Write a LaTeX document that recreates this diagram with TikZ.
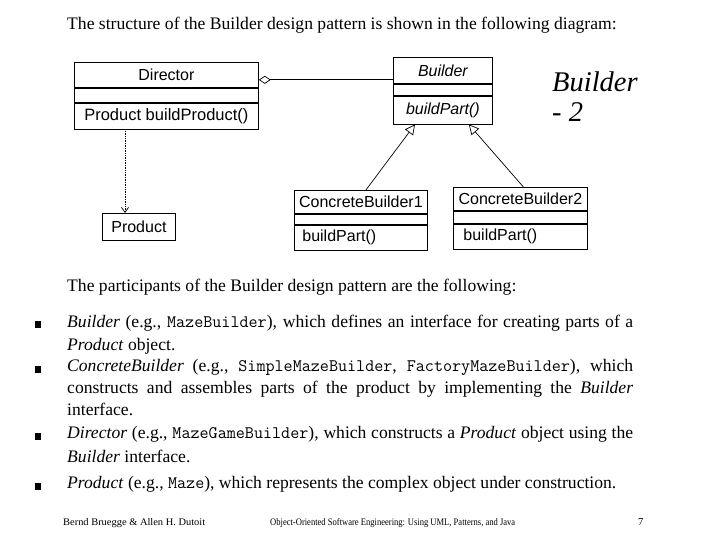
\documentclass[tikz,border=0pt]{standalone}
\usepackage{fontspec}
\setmainfont{Liberation Serif}
\setsansfont{Liberation Sans}
\usetikzlibrary{arrows.meta,calc}
\begin{document}
\begin{tikzpicture}[x=1pt,y=-1pt,
  cls/.style={draw, line width=0.8pt, inner sep=0pt, anchor=north west, font=\sffamily\fontsize{16}{18}\selectfont},
  conn/.style={line width=0.7pt},
  body/.style={anchor=base west, inner sep=0pt, font=\fontsize{17.6}{20}\selectfont},
  bul/.style={fill=black, inner sep=0pt, minimum width=6pt, minimum height=7pt},
  foot/.style={anchor=base west, inner sep=0pt}
]
\useasboundingbox (0,0) rectangle (720,540);
\fill[white] (0,0) rectangle (720,540);

% title
\node[body] (title) at (67,30) {The structure of the Builder design pattern is shown in the following diagram:};

% Director
\node[cls, minimum width=184pt, minimum height=25pt] (dirH) at (74,62) {Director};
\node[cls, minimum width=184pt, minimum height=14pt] (dirA) at (dirH.south west) {};
\node[cls, minimum width=184pt, minimum height=26pt, font=\sffamily\fontsize{16.5}{18}\selectfont] (dirM) at (dirA.south west) {Product buildProduct()};

% Builder
\node[cls, minimum width=99pt, minimum height=26pt, font=\sffamily\itshape\fontsize{16}{18}\selectfont] (bH) at (393,57) {Builder};
\node[cls, minimum width=99pt, minimum height=11pt] (bA) at (bH.south west) {};
\node[cls, minimum width=99pt, minimum height=28pt, font=\sffamily\itshape\fontsize{16}{18}\selectfont] (bM) at (bA.south west) {buildPart()};

% ConcreteBuilder1
\node[cls, minimum width=133pt, minimum height=23pt] (c1H) at (294,190) {ConcreteBuilder1};
\node[cls, minimum width=133pt, minimum height=10pt] (c1A) at (c1H.south west) {};
\node[cls, minimum height=25pt, inner xsep=8pt, text width=117pt, align=left] (c1M) at (c1A.south west) {buildPart()};

% ConcreteBuilder2
\node[cls, minimum width=134pt, minimum height=23pt] (c2H) at (453,187) {ConcreteBuilder2};
\node[cls, minimum width=134pt, minimum height=12pt] (c2A) at (c2H.south west) {};
\node[cls, minimum height=25pt, inner xsep=10pt, text width=114pt, align=left] (c2M) at (c2A.south west) {buildPart()};

% Product
\node[cls, minimum width=73pt, minimum height=27pt] (prod) at (102,213) {Product};

% connectors
\coordinate (aggL) at ($(dirH.south east)+(0,-8)$);
\draw[conn, {Diamond[open,length=12pt,width=8pt]}-] (aggL) -- (aggL -| bH.west);

\coordinate (t1) at ($(bM.south west)+(22,0)$);
\coordinate (t2) at ($(bM.south east)+(-24,0)$);
\draw[conn, -{Triangle[open,length=10pt,width=10pt]}] ($(c1H.north)+(5,0)$) -- (t1);
\draw[conn, -{Triangle[open,length=10pt,width=10pt]}] ($(c2H.north)+(3,0)$) -- (t2);

\coordinate (d1) at ($(dirM.south west)+(51,0)$);
\draw[conn, densely dotted, -{Straight Barb[length=5pt,width=7pt]}] (d1) -- (d1 |- prod.north);

% side label
\node[anchor=base west, inner sep=0pt, font=\itshape\fontsize{28.5}{30}\selectfont] (side1) at (552,92) {Builder};
\node[anchor=base west, inner sep=0pt, font=\itshape\fontsize{28.5}{30}\selectfont] (side2) at (552,122) {- 2};

% participants
\node[body] (ptitle) at (67,291) {The participants of the Builder design pattern are the following:};

\node[bul] (b1) at (38,324) {};
\node[body] (l1a) at (67,327) {\makebox[566pt][s]{\textit{Builder} (e.g., \texttt{MazeBuilder}), which defines an interface for creating parts of a}};
\node[body] (l1b) at (67,350) {\textit{Product} object.};

\node[bul] (b2) at (38,369) {};
\node[body] (l2a) at (67,371) {\makebox[566pt][s]{\textit{ConcreteBuilder} (e.g., \texttt{SimpleMazeBuilder}, \texttt{FactoryMazeBuilder}), which}};
\node[body] (l2b) at (67,393) {\makebox[566pt][s]{constructs and assembles parts of the product by implementing the \textit{Builder}}};
\node[body] (l2c) at (67,415) {interface.};

\node[bul] (b3) at (38,436) {};
\node[body] (l3a) at (67,438) {\makebox[566pt][s]{\textit{Director} (e.g., \texttt{MazeGameBuilder}), which constructs a \textit{Product} object using the}};
\node[body] (l3b) at (67,462) {\textit{Builder} interface.};

\node[bul] (b4) at (38,486) {};
\node[body] (l4a) at (67,488) {\textit{Product} (e.g., \texttt{Maze}), which represents the complex object under construction.};

% footer
\node[foot] (f1) at (63,525) {\resizebox{142pt}{7pt}{Bernd Bruegge \& Allen H. Dutoit}};
\node[foot] (f2) at (270,525) {\resizebox{245pt}{7pt}{Object-Oriented Software Engineering: Using UML, Patterns, and Java}};
\node[foot] (f3) at (638,525) {\resizebox{!}{7pt}{7}};
\end{tikzpicture}
\end{document}
